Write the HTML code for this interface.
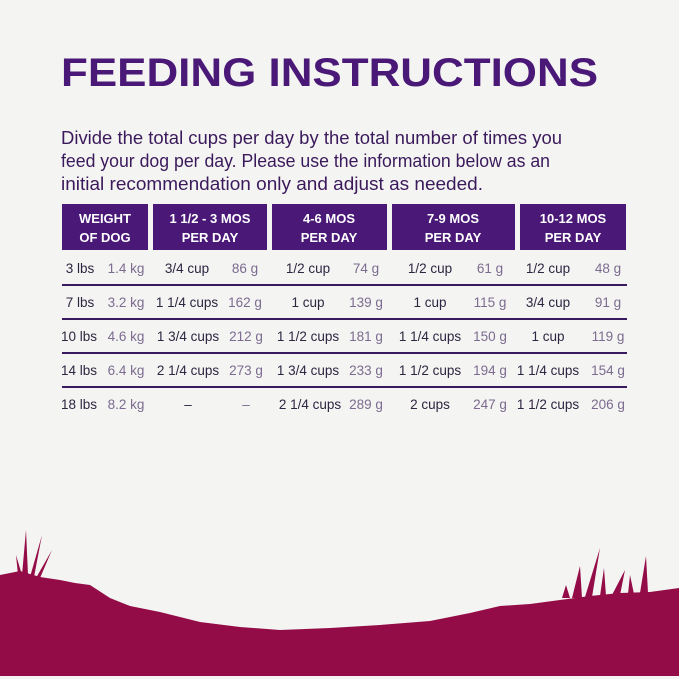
<!DOCTYPE html>
<html><head><meta charset="utf-8"><style>
html,body{margin:0;padding:0;background:#f4f4f3;}
svg{display:block;}
</style></head><body>
<svg width="679" height="679" viewBox="0 0 679 679" xmlns="http://www.w3.org/2000/svg" font-family="Liberation Sans, sans-serif">
<rect width="679" height="679" fill="#f4f4f2"/>
<text x="61" y="86" font-size="40" font-weight="bold" fill="#4a1877" textLength="537" lengthAdjust="spacingAndGlyphs">FEEDING INSTRUCTIONS</text>
<g font-size="18" fill="#3b1a5c">
<text x="61" y="144" textLength="501" lengthAdjust="spacingAndGlyphs">Divide the total cups per day by the total number of times you</text>
<text x="61" y="167" textLength="489" lengthAdjust="spacingAndGlyphs">feed your dog per day. Please use the information below as an</text>
<text x="61" y="190" textLength="422" lengthAdjust="spacingAndGlyphs">initial recommendation only and adjust as needed.</text>
</g>
<g fill="#4a1877">
<rect x="62" y="204" width="86" height="46"/>
<rect x="153" y="204" width="114" height="46"/>
<rect x="272" y="204" width="115" height="46"/>
<rect x="392" y="204" width="123" height="46"/>
<rect x="520" y="204" width="106" height="46"/>
</g>
<g font-size="13" font-weight="bold" fill="#fff" text-anchor="middle">
<text x="105" y="223">WEIGHT</text><text x="105" y="242">OF DOG</text>
<text x="210" y="223">1 1/2 - 3 MOS</text><text x="210" y="242">PER DAY</text>
<text x="329" y="223">4-6 MOS</text><text x="329" y="242">PER DAY</text>
<text x="453" y="223">7-9 MOS</text><text x="453" y="242">PER DAY</text>
<text x="573" y="223">10-12 MOS</text><text x="573" y="242">PER DAY</text>
</g>
<g stroke="#3a1a5e" stroke-width="2">
<line x1="62" y1="285" x2="627" y2="285"/>
<line x1="62" y1="319" x2="627" y2="319"/>
<line x1="62" y1="353" x2="627" y2="353"/>
<line x1="62" y1="387" x2="627" y2="387"/>
</g>
<g font-size="13.5">
<g fill="#2e2540" text-anchor="middle">
<text x="80" y="273">3 lbs</text><text x="80" y="307">7 lbs</text><text x="79" y="341">10 lbs</text><text x="79" y="375">14 lbs</text><text x="79" y="409">18 lbs</text>
<text x="187" y="273">3/4 cup</text><text x="187" y="307">1 1/4 cups</text><text x="188" y="341">1 3/4 cups</text><text x="188" y="375">2 1/4 cups</text><text x="188" y="409">–</text>
<text x="308" y="273">1/2 cup</text><text x="308" y="307">1 cup</text><text x="308" y="341">1 1/2 cups</text><text x="308" y="375">1 3/4 cups</text><text x="310" y="409">2 1/4 cups</text>
<text x="430" y="273">1/2 cup</text><text x="430" y="307">1 cup</text><text x="430" y="341">1 1/4 cups</text><text x="430" y="375">1 1/2 cups</text><text x="430" y="409">2 cups</text>
<text x="548" y="273">1/2 cup</text><text x="548" y="307">3/4 cup</text><text x="548" y="341">1 cup</text><text x="548" y="375">1 1/4 cups</text><text x="548" y="409">1 1/2 cups</text>
</g>
<g fill="#7c6b90" text-anchor="middle">
<text x="126" y="273">1.4 kg</text><text x="126" y="307">3.2 kg</text><text x="126" y="341">4.6 kg</text><text x="126" y="375">6.4 kg</text><text x="126" y="409">8.2 kg</text>
<text x="245" y="273">86 g</text><text x="245" y="307">162 g</text><text x="246" y="341">212 g</text><text x="246" y="375">273 g</text><text x="246" y="409">–</text>
<text x="366" y="273">74 g</text><text x="366" y="307">139 g</text><text x="366" y="341">181 g</text><text x="366" y="375">233 g</text><text x="366" y="409">289 g</text>
<text x="490" y="273">61 g</text><text x="490" y="307">115 g</text><text x="490" y="341">150 g</text><text x="490" y="375">194 g</text><text x="490" y="409">247 g</text>
<text x="608" y="273">48 g</text><text x="608" y="307">91 g</text><text x="608" y="341">119 g</text><text x="608" y="375">154 g</text><text x="608" y="409">206 g</text>
</g>
</g>
<path fill="#940c47" d="M0 575 L20 571 L40 577 L60 580 L75 583 L90 585 L110 598 L130 606 L160 612 L200 622 L240 627 L280 630 L330 628 L380 625 L430 621 L470 613 L500 606 L530 604 L560 600 L590 596 L620 593 L650 592 L679 588 L679 676 L0 676 Z"/>
<g fill="#940c47">
<path d="M22 575 L26 530 L28 575 Z"/>
<path d="M30 577 L42 535 L34 577 Z"/>
<path d="M36 578 L52 550 L40 578 Z"/>
<path d="M18 575 L16 555 L22 575 Z"/>
<path d="M572 598 L580 566 L582 598 Z"/>
<path d="M585 597 L600 548 L592 597 Z"/>
<path d="M600 596 L604 568 L606 596 Z"/>
<path d="M612 595 L625 570 L620 595 Z"/>
<path d="M640 593 L646 556 L648 593 Z"/>
<path d="M628 594 L630 575 L634 594 Z"/>
<path d="M562 598 L566 585 L570 598 Z"/>
</g>
</svg>
</body></html>
